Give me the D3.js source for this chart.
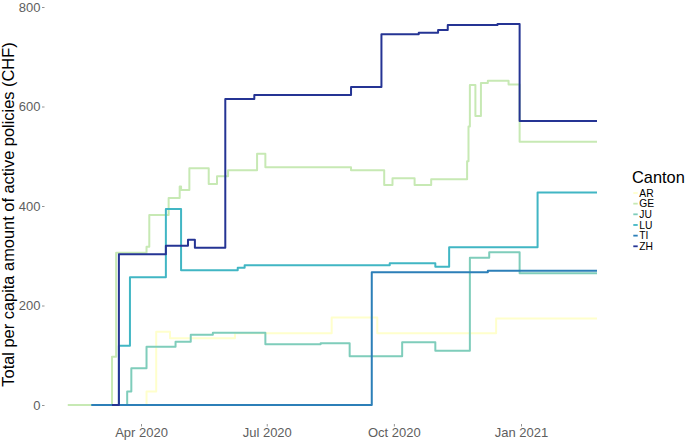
<!DOCTYPE html>
<html>
<head>
<meta charset="utf-8">
<script src="https://cdn.jsdelivr.net/npm/d3@7"></script>
<style>
  html, body { margin: 0; padding: 0; background: #ffffff; }
  svg { display: block; font-family: "Liberation Sans", Arial, sans-serif; }
</style>
</head>
<body>
<svg id="chart" width="685" height="440"></svg>
<script>
// ---- Data ----
const cantons = ["AR", "GE", "JU", "LU", "TI", "ZH"];
const colors  = ["#ffffcc", "#c7e9b4", "#7fcdbb", "#41b6c4", "#2c7fb8", "#253494"];

const arDates  = ["2020-03-08","2020-04-05","2020-04-12","2020-04-22","2020-06-08","2020-08-17","2020-09-19","2020-12-14","2021-02-25"];
const arValues = [0, 27, 147, 134, 144, 176, 144, 174, 174];

const geDates  = ["2020-02-08","2020-03-11","2020-03-14","2020-04-05","2020-04-07","2020-04-21","2020-04-29","2020-04-30","2020-05-06","2020-05-20","2020-05-26","2020-06-03","2020-06-24","2020-06-30","2020-08-31","2020-09-24","2020-09-30","2020-10-16","2020-10-28","2020-11-23","2020-11-24","2020-11-25","2020-11-29","2020-12-03","2020-12-08","2020-12-23","2020-12-31","2021-02-25"];
const geValues = [0, 97, 306, 318, 382, 416, 439, 432, 476, 444, 460, 472, 505, 478, 472, 442, 456, 442, 454, 490, 560, 643, 581, 647, 652, 644, 529, 529];

const juDates  = ["2020-03-05","2020-03-22","2020-03-25","2020-04-05","2020-04-26","2020-05-07","2020-05-23","2020-06-30","2020-08-09","2020-08-30","2020-10-07","2020-10-31","2020-11-25","2020-12-09","2020-12-31","2021-02-25"];
const juValues = [0, 27, 74, 117, 127, 141, 145, 122, 124, 98, 126, 109, 296, 307, 265, 265];

const luDates  = ["2020-03-03","2020-03-16","2020-03-24","2020-04-19","2020-04-30","2020-06-10","2020-06-15","2020-09-28","2020-10-31","2020-11-10","2021-01-13","2021-02-25"];
const luValues = [0, 119, 257, 394, 271, 276, 281, 285, 278, 317, 427, 427];

const tiDates  = ["2020-02-25","2020-09-15","2020-12-08","2021-02-25"];
const tiValues = [0, 267, 270, 270];

const zhDates  = ["2020-03-11","2020-03-16","2020-04-19","2020-05-05","2020-05-10","2020-06-01","2020-06-22","2020-08-31","2020-09-22","2020-10-19","2020-11-02","2020-11-09","2020-12-15","2020-12-31","2021-02-25"];
const zhValues = [0, 303, 320, 332, 316, 615, 623, 639, 745, 748, 754, 764, 766, 571, 571];

const xTickDates  = ["2020-04-01", "2020-07-01", "2020-10-01", "2021-01-01"];
const xTickLabels = ["Apr 2020", "Jul 2020", "Oct 2020", "Jan 2021"];
const yTicks = [0, 200, 400, 600, 800];

const yTitle = "Total per capita amount of active policies (CHF)";
const legendTitle = "Canton";

// ---- Build ----
const parse = d3.utcParse("%Y-%m-%d");
const seriesDates  = [arDates, geDates, juDates, luDates, tiDates, zhDates];
const seriesValues = [arValues, geValues, juValues, luValues, tiValues, zhValues];
const series = cantons.map((c, i) => ({
  name: c,
  color: colors[i],
  points: seriesDates[i].map((d, j) => ({ date: parse(d), value: seriesValues[i][j] }))
}));

const svg = d3.select("#chart");

const x = d3.scaleUtc()
  .domain([parse("2020-04-01"), parse("2021-01-01")])
  .range([141, 521]);
const y = d3.scaleLinear()
  .domain([0, 800])
  .range([405, 7]);

const panelLeft = 44.5, panelBottom = 424;

// axes
const xAxis = d3.axisBottom(x)
  .tickValues(xTickDates.map(parse))
  .tickFormat((d, i) => xTickLabels[i])
  .tickSize(2.5)
  .tickPadding(1);
const gx = svg.append("g").attr("transform", `translate(0,${panelBottom})`).call(xAxis);

const yAxis = d3.axisLeft(y)
  .tickValues(yTicks)
  .tickFormat(d3.format("d"))
  .tickSize(2.5)
  .tickPadding(1.5);
const gy = svg.append("g").attr("transform", `translate(${panelLeft},0)`).call(yAxis);

[gx, gy].forEach(g => {
  g.select(".domain").remove();
  g.selectAll(".tick line").attr("stroke", "#777").attr("stroke-width", 0.8);
  g.selectAll(".tick text")
    .attr("fill", "#5e5e5e")
    .style("font-size", "13px")
    .style("font-family", "'Liberation Sans', Arial, sans-serif");
});

// lines
const line = d3.line()
  .x(d => x(d.date))
  .y(d => y(d.value))
  .curve(d3.curveStepAfter);

svg.append("g").selectAll("path")
  .data(series)
  .join("path")
  .attr("d", s => line(s.points))
  .attr("fill", "none")
  .attr("stroke", s => s.color)
  .attr("stroke-width", 2)
  .attr("stroke-linejoin", "round");

// y title
svg.append("text")
  .attr("transform", `translate(13.5,${(5 + panelBottom) / 2}) rotate(-90)`)
  .attr("text-anchor", "middle")
  .style("font-size", "16.4px")
  .attr("fill", "#000")
  .text(yTitle);

// legend
const lg = svg.append("g").attr("transform", "translate(632,0)");
lg.append("text")
  .attr("x", 0).attr("y", 183)
  .style("font-size", "16.4px")
  .attr("fill", "#000")
  .text(legendTitle);

const rowY = d3.scalePoint().domain(cantons).range([193, 246.3]);
const items = lg.selectAll("g.item").data(series).join("g")
  .attr("class", "item")
  .attr("transform", s => `translate(0,${rowY(s.name)})`);
items.append("line")
  .attr("x1", 1.3).attr("x2", 5.7)
  .attr("y1", 0).attr("y2", 0)
  .attr("stroke", s => s.color)
  .attr("stroke-width", 1.8);
items.append("text")
  .attr("x", 7.3).attr("y", 0)
  .attr("dy", "0.36em")
  .style("font-size", "10.3px")
  .attr("fill", "#000")
  .text(s => s.name);
</script>
</body>
</html>
